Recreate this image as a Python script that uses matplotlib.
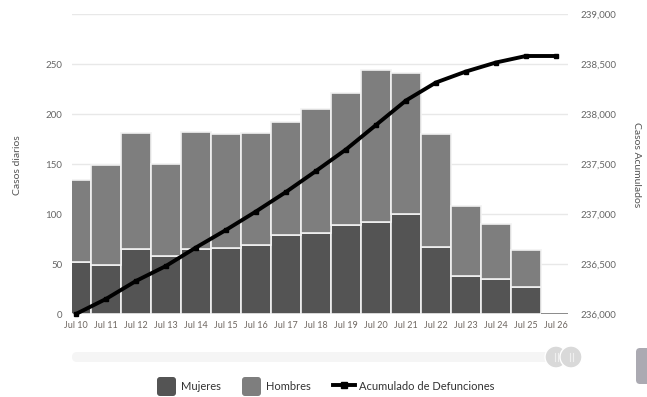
import numpy as np
import matplotlib.pyplot as plt
from matplotlib.patches import FancyBboxPatch, Circle
from matplotlib.lines import Line2D
from matplotlib.transforms import IdentityTransform

plt.rcParams['font.family'] = ['Lato', 'DejaVu Sans']

# Datos diarios de defunciones
fechas = ['Jul 10', 'Jul 11', 'Jul 12', 'Jul 13', 'Jul 14', 'Jul 15', 'Jul 16', 'Jul 17', 'Jul 18',
          'Jul 19', 'Jul 20', 'Jul 21', 'Jul 22', 'Jul 23', 'Jul 24', 'Jul 25', 'Jul 26']
mujeres = [52, 49, 65, 58, 65, 66, 69, 79, 81, 89, 92, 100, 67, 38, 35, 27, 0]
hombres = [82, 100, 116, 92, 117, 114, 112, 113, 124, 132, 152, 141, 113, 70, 55, 37, 0]
acumulado = [236000, 236150, 236330, 236480, 236665, 236840, 237025, 237220, 237430,
             237645, 237890, 238135, 238315, 238425, 238515, 238580, 238580]

W, H = 647, 397
fig = plt.figure(figsize=(W / 100, H / 100), dpi=100)
ax = fig.add_axes([72 / W, 83 / H, 496 / W, 300 / H])

x = np.arange(len(fechas))
c_muj = '#545454'
c_hom = '#7e7e7e'
# borde gris en barras vacías para que se vea la línea en cero
bordes = ['#f2f2f2' if m + h > 0 else '#8a8a8a' for m, h in zip(mujeres, hombres)]
ax.bar(x, mujeres, width=1.0, color=c_muj, edgecolor=bordes, linewidth=1.2, zorder=2)
ax.bar(x, hombres, bottom=mujeres, width=1.0, color=c_hom, edgecolor=bordes, linewidth=1.2, zorder=2)

ax.set_xlim(-0.13, 16.4)
ax.set_ylim(0, 300)
ax.set_yticks(np.arange(0, 301, 50))
ax.set_yticklabels([str(v) for v in range(0, 251, 50)] + [''])
ax.set_xticks(x)
ax.set_xticklabels(fechas)
ax.grid(axis='y', color='#e8e8e8', linewidth=1, zorder=0)
ax.set_axisbelow(True)
for s in ax.spines.values():
    s.set_visible(False)
ax.tick_params(axis='y', length=0, pad=7, labelsize=7, labelcolor='#666666')
ax.tick_params(axis='x', length=0, pad=5, labelsize=6.5, labelcolor='#6e6660')

# Eje derecho con el acumulado
ax2 = ax.twinx()
ax2.plot(x, acumulado, color='black', linewidth=2.8, marker='s', markersize=3.5, zorder=5,
         clip_on=False)
ax2.set_ylim(236000, 239000)
ax2.set_yticks(np.arange(236000, 239001, 500))
ax2.set_yticklabels([f'{v:,}' for v in range(236000, 239001, 500)])
for s in ax2.spines.values():
    s.set_visible(False)
ax2.tick_params(axis='y', length=0, pad=9, labelsize=7, labelcolor='#666666')

fig.text(18 / W, 1 - 165 / H, 'Casos diarios', rotation=90, ha='center', va='center',
         fontsize=7.5, color='#555555')
fig.text(636 / W, 1 - 165 / H, 'Casos Acumulados', rotation=-90, ha='center', va='center',
         fontsize=7.5, color='#555555')

# Barra de desplazamiento (coordenadas en píxeles desde arriba)
px = IdentityTransform()


def px_box(x0, y0, w, h, color, r):
    return FancyBboxPatch((x0, H - (y0 + h)), w, h,
                          boxstyle=f'round,pad=0,rounding_size={r}',
                          transform=px, facecolor=color, edgecolor='none')


fig.add_artist(px_box(72, 352, 490, 10, '#f5f5f5', 5))
for cx in (556, 571):
    fig.add_artist(Circle((cx, H - 357), 11, transform=px,
                          facecolor='#d9d9d9', edgecolor='white', linewidth=1))
    for dx in (-1.5, 1.5):
        fig.add_artist(Line2D([cx + dx] * 2, [H - 353, H - 361],
                              transform=px, color='#efefef', linewidth=0.8))
fig.add_artist(px_box(636, 348, 16, 36, '#abaab2', 4))

# Leyenda
fig.add_artist(px_box(157, 377, 19, 19, c_muj, 3))
fig.text(181 / W, 1 - 386 / H, 'Mujeres', va='center', fontsize=8, color='#333333')
fig.add_artist(px_box(242, 377, 19, 19, c_hom, 3))
fig.text(266 / W, 1 - 386 / H, 'Hombres', va='center', fontsize=8, color='#333333')
fig.add_artist(Line2D([333, 355], [H - 385] * 2, transform=px, color='black', linewidth=2.8))
fig.add_artist(Line2D([344], [H - 385], transform=px, color='black', marker='s', markersize=4.5))
fig.text(359 / W, 1 - 386 / H, 'Acumulado de Defunciones', va='center', fontsize=8,
         color='#333333')

fig.savefig('out.png', dpi=100)
